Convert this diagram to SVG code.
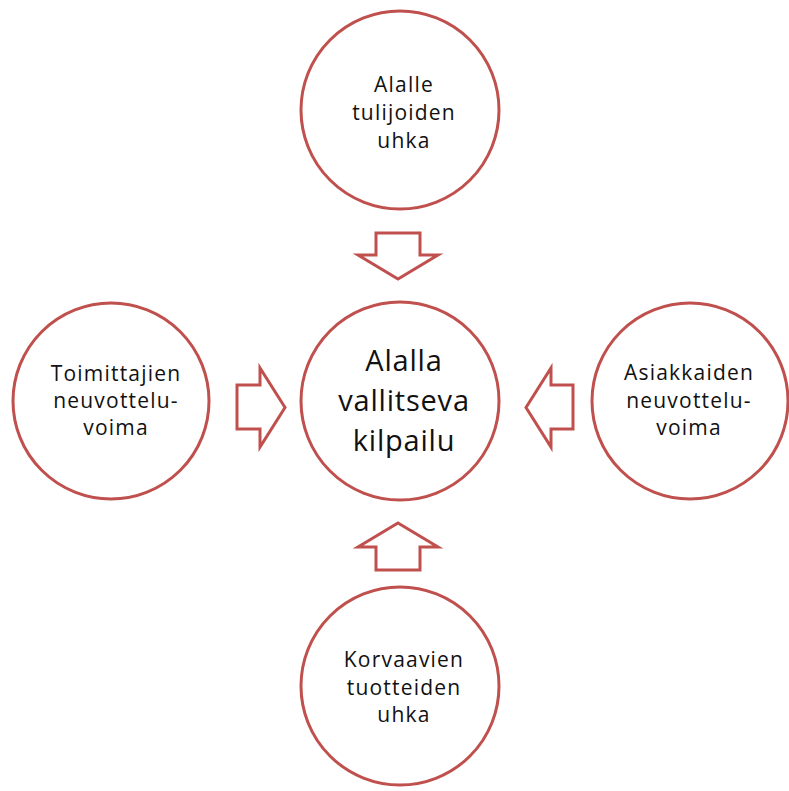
<svg xmlns="http://www.w3.org/2000/svg" width="789" height="791" viewBox="0 0 789 791">
<style>
.c{fill:#fff;stroke:#C0504D;stroke-width:3}
.a{fill:#fff;stroke:#C0504D;stroke-width:3;stroke-linejoin:miter}
.t{font-family:"Open Sans","Noto Sans","DejaVu Sans",sans-serif;font-size:21px;letter-spacing:1.2px;fill:#111;text-anchor:middle}
.tc{font-family:"Open Sans","Noto Sans","DejaVu Sans",sans-serif;font-size:29px;letter-spacing:0.8px;fill:#111;text-anchor:middle}
</style>
<rect width="789" height="791" fill="#fff"/>
<g id="connectors">
<polygon class="a" points="376,233 420,233 420,255 438,255 398,279 358,255 376,255"/>
<polygon class="a" points="398,523 438,547 420,547 420,570 376,570 376,547 358,547"/>
<polygon class="a" points="237,385 260,385 260,368 285,407.5 260,447 260,429 237,429"/>
<polygon class="a" points="526,407.5 551,368 551,385 573,385 573,429 551,429 551,447"/>
</g>
<g id="top">
<circle class="c" cx="400" cy="110" r="99"/>
<text class="t" x="404" y="92">Alalle</text>
<text class="t" x="404" y="120">tulijoiden</text>
<text class="t" x="404" y="148">uhka</text>
</g>
<g id="center">
<circle class="c" cx="400" cy="401" r="99"/>
<text class="tc" x="404" y="371">Alalla</text>
<text class="tc" x="404" y="411">vallitseva</text>
<text class="tc" x="404" y="451">kilpailu</text>
</g>
<g id="left">
<circle class="c" cx="111" cy="401" r="98"/>
<text class="t" x="116" y="381">Toimittajien</text>
<text class="t" x="116" y="408">neuvottelu-</text>
<text class="t" x="116" y="435">voima</text>
</g>
<g id="right">
<circle class="c" cx="690" cy="401" r="98"/>
<text class="t" x="689" y="380">Asiakkaiden</text>
<text class="t" x="689" y="408">neuvottelu-</text>
<text class="t" x="689" y="435">voima</text>
</g>
<g id="bottom">
<circle class="c" cx="400" cy="686" r="99"/>
<text class="t" x="404" y="667">Korvaavien</text>
<text class="t" x="404" y="695">tuotteiden</text>
<text class="t" x="404" y="722">uhka</text>
</g>
</svg>
